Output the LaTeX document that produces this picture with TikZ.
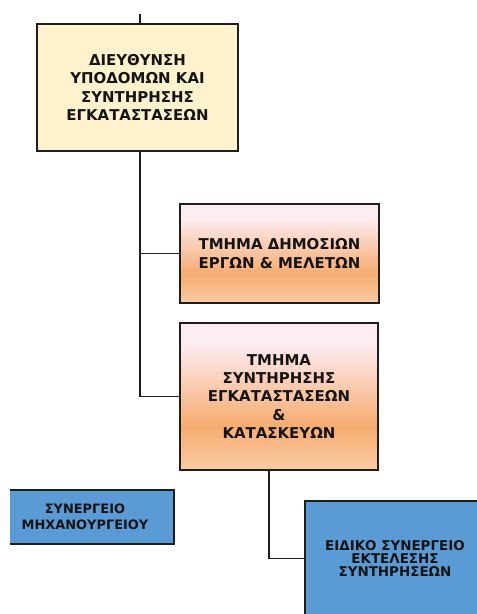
\documentclass[tikz,border=0pt]{standalone}
\usepackage{fontspec}
\setmainfont{Liberation Sans}
\newfontfamily\heavyfont{DejaVu Sans}[UprightFont=* Bold]
\definecolor{cream}{RGB}{255,242,204}
\definecolor{peach}{RGB}{247,172,112}
\definecolor{blush}{RGB}{253,236,242}
\definecolor{paleorange}{RGB}{253,236,218}
\definecolor{boxblue}{RGB}{91,155,213}
\definecolor{boxline}{RGB}{30,30,30}
\definecolor{ink}{RGB}{20,20,20}
\pgfdeclareverticalshading{orangeshade}{100bp}{color(0bp)=(paleorange); color(10bp)=(paleorange);
  color(40bp)=(peach); color(68bp)=(blush); color(100bp)=(blush)}

\begin{document}
\begin{tikzpicture}[x=1bp,y=1bp,
    box/.style={draw=boxline,line width=2bp,align=center,inner sep=0pt,text=ink,
      font=\heavyfont\fontsize{15}{18.5}\selectfont},
    creambox/.style={box,fill=cream},
    orangebox/.style={box,shading=orangeshade},
    bluebox/.style={box,fill=boxblue,font=\heavyfont\fontsize{13.5}{13.5}\selectfont},
    link/.style={draw=boxline,line width=1.6bp}]
    \useasboundingbox (0,0) rectangle (477,614);
    \clip (10,0) rectangle (477,614);

    \path (137.5,526.5) node [creambox,minimum width=201,minimum height=127] (dieythynsi)
     {ΔΙΕΥΘΥΝΣΗ\\ΥΠΟΔΟΜΩΝ ΚΑΙ\\ΣΥΝΤΗΡΗΣΗΣ\\ΕΓΚΑΤΑΣΤΑΣΕΩΝ};
    \path (279.5,360.5) node [orangebox,minimum width=199,minimum height=99] (dimosia)
     {ΤΜΗΜΑ ΔΗΜΟΣΙΩΝ\\ΕΡΓΩΝ \& ΜΕΛΕΤΩΝ};
    \path (279,217.5) node [orangebox,minimum width=198,minimum height=147] (synthrisi)
     {ΤΜΗΜΑ\\ΣΥΝΤΗΡΗΣΗΣ\\ΕΓΚΑΤΑΣΤΑΣΕΩΝ\\\&\\ΚΑΤΑΣΚΕΥΩΝ};
    \path (85,97) node [bluebox,minimum width=178,minimum height=54,
     font=\heavyfont\fontsize{13}{16}\selectfont] (mixanourgeio)
     {ΣΥΝΕΡΓΕΙΟ\\ΜΗΧΑΝΟΥΡΓΕΙΟΥ};
    \path (395,55.5) node [bluebox,minimum width=180,minimum height=115] (eidiko)
     {ΕΙΔΙΚΟ ΣΥΝΕΡΓΕΙΟ\\ΕΚΤΕΛΕΣΗΣ\\ΣΥΝΤΗΡΗΣΕΩΝ};

    \coordinate (top) at (140,600);
    \draw [link] (top) -- (top |- dieythynsi.north);
    \draw [link] (top |- dieythynsi.south) |- (dimosia.west);
    \draw [link] (top |- dieythynsi.south) |- (synthrisi.west);
    \draw [link] ([xshift=-10]synthrisi.south) |- (eidiko.west);
\end{tikzpicture}
\end{document}
